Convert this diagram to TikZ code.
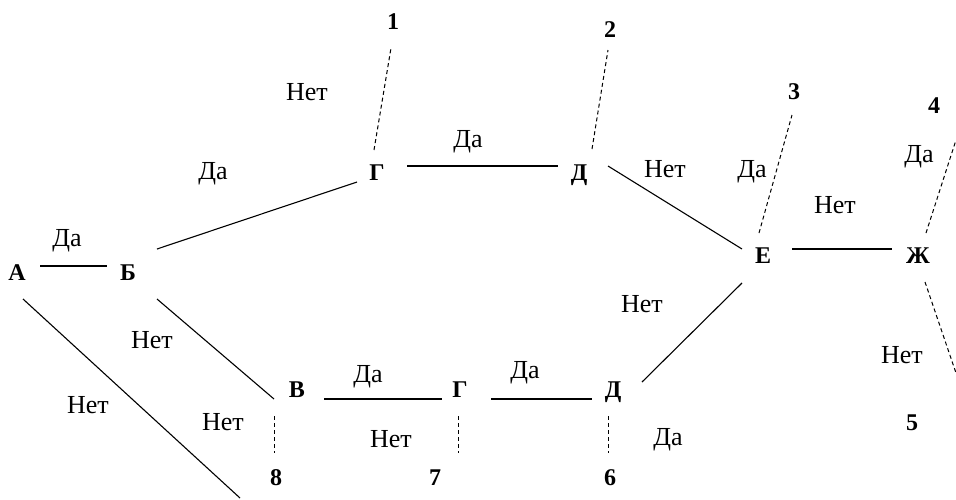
\documentclass[tikz,border=0pt]{standalone}
\usepackage{fontspec}
\setmainfont{Liberation Serif}
\begin{document}
\begin{tikzpicture}[x=1pt,y=-1pt,
  vtx/.style={font=\fontsize{24}{26}\selectfont\bfseries, inner sep=0pt, anchor=base},
  num/.style={font=\fontsize{24}{26}\selectfont\bfseries, inner sep=0pt, anchor=base},
  ans/.style={font=\fontsize{26}{28}\selectfont, inner sep=0pt, anchor=base},
  edge/.style={line width=1.1pt},
  hedge/.style={line width=1.8pt},
  lead/.style={line width=1pt, dash pattern=on 4pt off 3pt}]
\useasboundingbox (0,0) rectangle (956,499);

% decision points
\node[vtx] (A)  at (17,280)  {А};
\node[vtx] (B)  at (128,280) {Б};
\node[vtx] (G1) at (377,180) {Г};
\node[vtx] (D1) at (579,180) {Д};
\node[vtx] (E)  at (763,263) {Е};
\node[vtx] (Zh) at (918,263) {Ж};
\node[vtx] (V)  at (297,397) {В};
\node[vtx] (G2) at (460,397) {Г};
\node[vtx] (D2) at (613,397) {Д};

% outcomes
\node[num] (n1) at (393,29)  {1};
\node[num] (n2) at (610,37)  {2};
\node[num] (n3) at (794,99)  {3};
\node[num] (n4) at (934,113) {4};
\node[num] (n5) at (912,430) {5};
\node[num] (n6) at (610,485) {6};
\node[num] (n7) at (435,485) {7};
\node[num] (n8) at (276,485) {8};

% answers
\node[ans] (l1)  at (67,246)  {Да};
\node[ans] (l2)  at (213,179) {Да};
\node[ans] (l3)  at (152,348) {Нет};
\node[ans] (l4)  at (88,413)  {Нет};
\node[ans] (l5)  at (223,430) {Нет};
\node[ans] (l6)  at (307,100) {Нет};
\node[ans] (l7)  at (468,147) {Да};
\node[ans] (l8)  at (665,177) {Нет};
\node[ans] (l9)  at (752,177) {Да};
\node[ans] (l10) at (835,213) {Нет};
\node[ans] (l11) at (919,162) {Да};
\node[ans] (l12) at (642,312) {Нет};
\node[ans] (l13) at (902,363) {Нет};
\node[ans] (l14) at (668,445) {Да};
\node[ans] (l15) at (368,382) {Да};
\node[ans] (l16) at (525,378) {Да};
\node[ans] (l17) at (391,447) {Нет};

% connector ends
\coordinate (ab1) at (40,266);   \coordinate (ab2) at (107,266);
\coordinate (bg1) at (157,249);  \coordinate (bg2) at (357,182);
\coordinate (bv1) at (157,299);  \coordinate (bv2) at (274,399);
\coordinate (ax1) at (23,299);   \coordinate (ax2) at (240,498);
\coordinate (gd1) at (407,166);  \coordinate (gd2) at (558,166);
\coordinate (g11) at (374,150);  \coordinate (g12) at (391,48);
\coordinate (d21) at (592,149);  \coordinate (d22) at (608,50);
\coordinate (de1) at (608,166);  \coordinate (de2) at (742,249);
\coordinate (e31) at (759,233);  \coordinate (e32) at (792,115);
\coordinate (ez1) at (792,249);  \coordinate (ez2) at (892,249);
\coordinate (z41) at (926,233);  \coordinate (z42) at (956,140);
\coordinate (z51) at (925,282);  \coordinate (z52) at (956,373);
\coordinate (ed1) at (742,283);  \coordinate (ed2) at (642,382);
\coordinate (vg1) at (324,399);  \coordinate (vg2) at (442,399);
\coordinate (gx1) at (491,399);  \coordinate (gx2) at (592,399);
\coordinate (v81) at (274,416);  \coordinate (v82) at (274,453);
\coordinate (g71) at (458,416);  \coordinate (g72) at (458,453);
\coordinate (d61) at (608,416);  \coordinate (d62) at (608,453);

% branches
\draw[hedge] (ab1) -- (ab2);
\draw[edge]  (bg1) -- (bg2);
\draw[edge]  (bv1) -- (bv2);
\draw[edge]  (ax1) -- (ax2);
\draw[hedge] (gd1) -- (gd2);
\draw[edge]  (de1) -- (de2);
\draw[edge]  (ez1) -- (ez2);
\draw[edge]  (ed1) -- (ed2);
\draw[hedge] (vg1) -- (vg2);
\draw[hedge] (gx1) -- (gx2);

% leads to outcomes
\draw[lead] (g11) -- (g12);
\draw[lead] (d21) -- (d22);
\draw[lead] (e31) -- (e32);
\draw[lead] (z41) -- (z42);
\draw[lead] (z51) -- (z52);
\draw[lead] (v81) -- (v82);
\draw[lead] (g71) -- (g72);
\draw[lead] (d61) -- (d62);
\end{tikzpicture}
\end{document}
